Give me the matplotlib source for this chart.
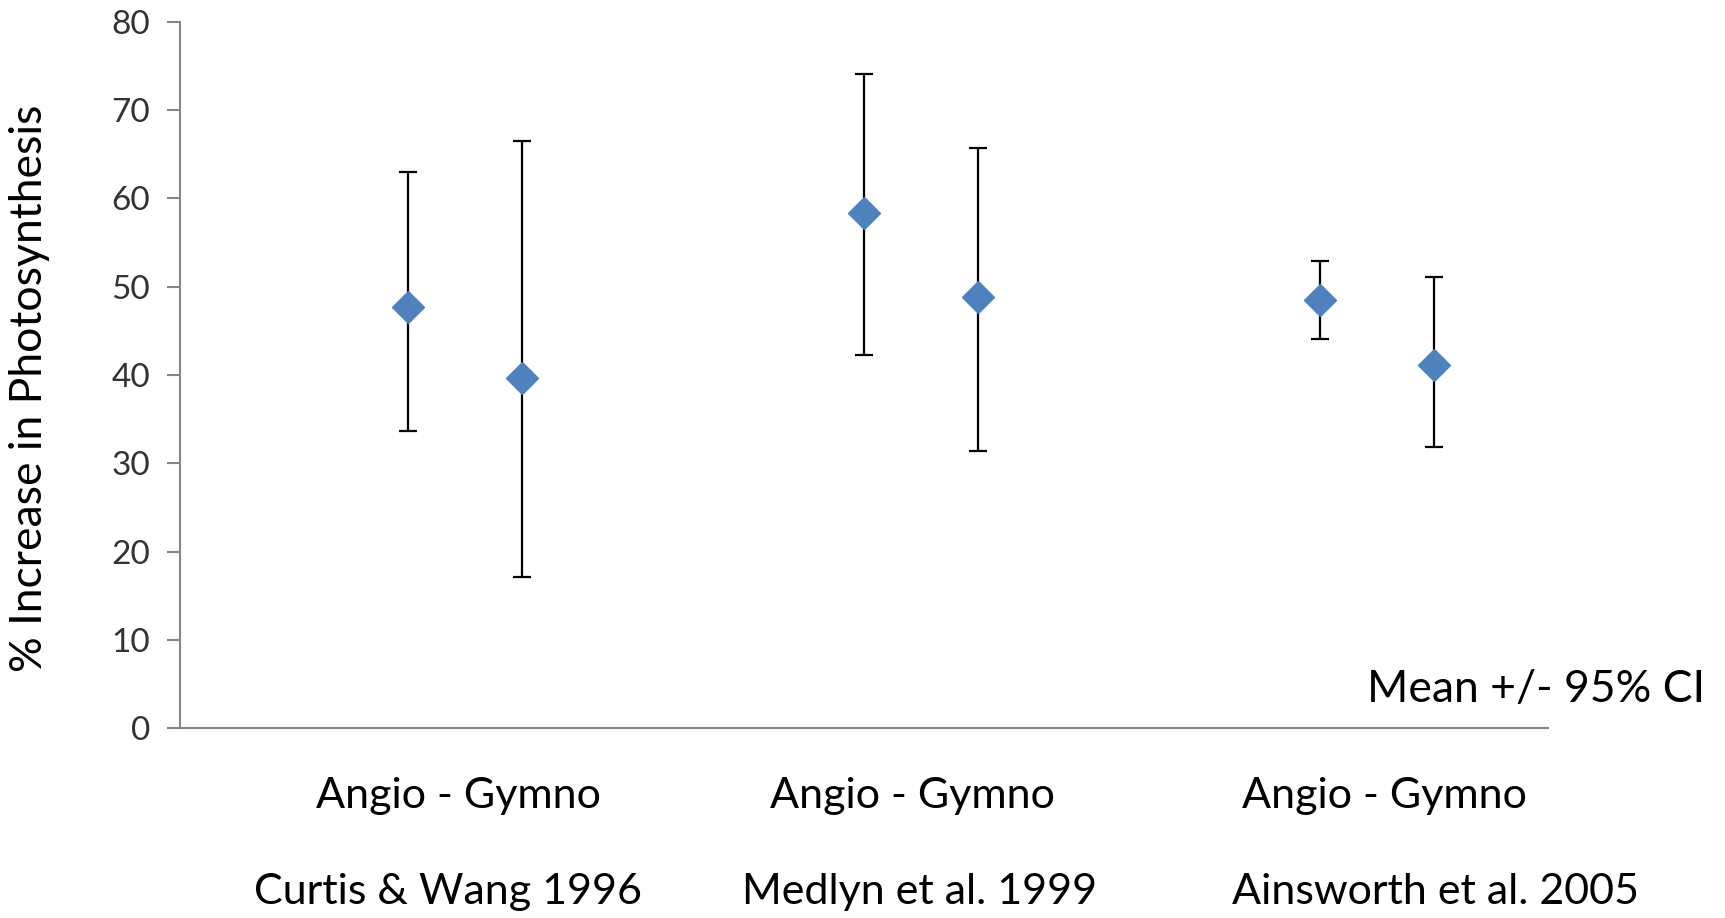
import numpy as np
import matplotlib
matplotlib.use("Agg")
import matplotlib.pyplot as plt

# angiosperm / gymnosperm pairs for each meta-analysis
studies = ["Curtis & Wang 1996", "Medlyn et al. 1999", "Ainsworth et al. 2005"]
pair_label = "Angio - Gymno"
x_pos = [2, 3, 6, 7, 10, 11]
means = [47.7, 39.7, 58.4, 48.8, 48.5, 41.1]
ci_low = [33.7, 17.1, 42.3, 31.4, 44.1, 31.8]
ci_high = [63.0, 66.5, 74.1, 65.7, 52.9, 51.1]

plt.rcParams['font.family'] = ['Lato', 'DejaVu Sans']

fig = plt.figure(figsize=(17.25, 9.18), dpi=100)
ax = fig.add_axes([180 / 1725, 190 / 918, 1368 / 1725, 706 / 918])

means = np.array(means)
yerr = [means - np.array(ci_low), np.array(ci_high) - means]
ax.errorbar(x_pos, means, yerr=yerr, fmt='none', ecolor='black',
            elinewidth=1.6, capsize=6.5, capthick=1.6, zorder=2)
ax.plot(x_pos, means, linestyle='none', marker='D', markersize=16,
        color='#4F81BD', markeredgecolor='#4F81BD', zorder=3)

ax.set_xlim(0, 12)
ax.set_ylim(0, 80)
ax.set_yticks(np.arange(0, 81, 10))
ax.set_xticks([])
for side in ['top', 'right']:
    ax.spines[side].set_visible(False)
for side in ['left', 'bottom']:
    ax.spines[side].set_color('#868686')
    ax.spines[side].set_linewidth(1.5)
ax.tick_params(axis='y', length=9.5, width=1.5, color='#868686',
               labelsize=24, labelcolor='#333333', pad=12)

# y label and group captions placed on the figure
fig.text(30 / 1725, 0.577, "% Increase in Photosynthesis", rotation=90,
         ha='center', va='center', fontsize=32, color='black')

label_x = [458, 912, 1384]
study_x = [448, 920, 1435]
for lx, sx, name in zip(label_x, study_x, studies):
    fig.text(lx / 1725, (918 - 808) / 918, pair_label, ha='center',
             va='baseline', fontsize=31)
    fig.text(sx / 1725, (918 - 904) / 918, name, ha='center',
             va='baseline', fontsize=31)

fig.text(1705 / 1725, (918 - 702) / 918, "Mean +/- 95% CI", ha='right',
         va='baseline', fontsize=32)

fig.savefig("out.png", dpi=100, facecolor='white')
